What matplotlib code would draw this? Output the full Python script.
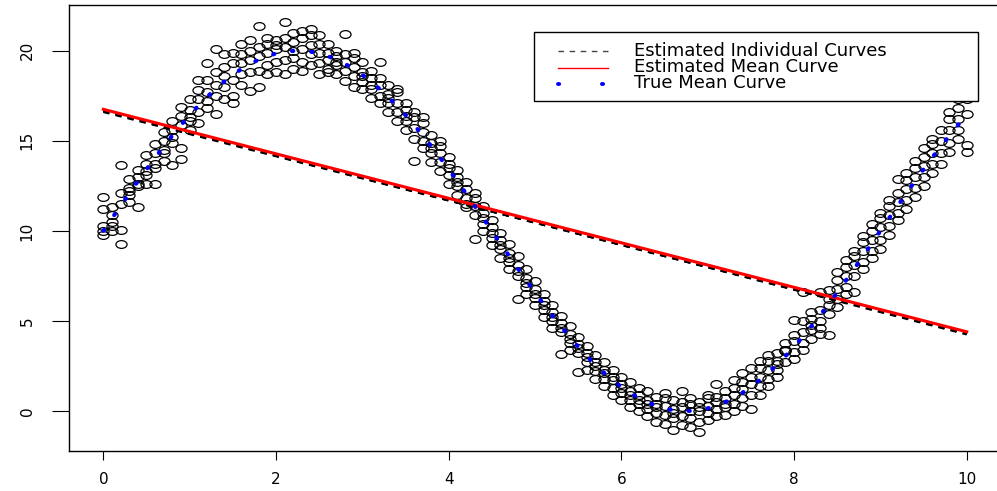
import numpy as np
import matplotlib
matplotlib.use("Agg")
import matplotlib.pyplot as plt
from matplotlib.path import Path
from matplotlib.lines import Line2D
from matplotlib.patches import Rectangle

plt.rcParams['font.family'] = ['DejaVu Sans']

# observation times (grid of 0.1) and 5 observations per time
times = np.linspace(0, 10, 101)
obs = [
    [9.8, 10.0, 10.3, 11.2, 11.9],
    [10.0, 10.5, 10.9, 11.3, 10.3],
    [9.3, 10.05, 11.5, 12.1, 13.65],
    [11.6, 12.0, 12.4, 12.9, 12.2],
    [11.34, 12.5, 13.0, 13.4, 12.6],
    [12.6, 13.1, 13.7, 14.2, 13.3],
    [12.6, 13.7, 14.3, 14.8, 13.5],
    [13.9, 14.5, 15.0, 15.5, 14.3],
    [13.65, 14.9, 15.6, 16.1, 15.2],
    [14.0, 14.58, 15.9, 16.4, 16.9],
    [15.6, 16.1, 16.7, 17.3, 16.3],
    [16.0, 16.6, 17.3, 17.8, 18.4],
    [16.8, 17.2, 17.7, 18.4, 19.3],
    [16.47, 17.5, 18.1, 18.8, 20.1],
    [17.3, 18.0, 18.6, 19.1, 19.8],
    [17.1, 17.5, 18.4, 19.3, 19.9],
    [18.1, 18.7, 19.3, 19.8, 20.4],
    [17.76, 18.8, 19.5, 20.0, 20.6],
    [18.0, 18.9, 19.7, 20.2, 21.37],
    [18.7, 19.2, 19.9, 20.4, 20.7],
    [18.8, 19.4, 20.1, 20.6, 20.3],
    [18.7, 19.5, 20.2, 20.7, 21.6],
    [19.0, 19.6, 20.0, 20.5, 21.0],
    [18.9, 19.4, 20.1, 20.7, 21.1],
    [19.2, 19.8, 20.3, 20.9, 21.2],
    [18.7, 19.3, 19.9, 20.4, 20.9],
    [19.0, 19.5, 19.9, 20.4, 18.8],
    [18.7, 19.2, 19.7, 20.0, 19.4],
    [18.3, 18.9, 19.4, 19.8, 20.93],
    [18.0, 18.6, 19.1, 19.6, 19.9],
    [17.9, 18.28, 18.8, 19.4, 18.6],
    [17.4, 17.9, 18.5, 18.9, 18.1],
    [17.1, 17.5, 18.1, 18.5, 19.37],
    [16.6, 17.1, 17.6, 18.1, 17.4],
    [16.1, 16.6, 17.1, 17.7, 17.9],
    [15.6, 16.1, 16.7, 17.1, 16.4],
    [13.9, 15.1, 15.7, 16.3, 16.6],
    [14.6, 15.0, 15.5, 16.0, 16.3],
    [13.8, 14.3, 14.9, 15.3, 14.6],
    [13.3, 13.8, 14.3, 14.7, 15.0],
    [12.6, 13.1, 13.7, 14.1, 13.5],
    [12.0, 12.5, 13.0, 13.4, 12.7],
    [11.3, 11.8, 12.3, 12.7, 11.5],
    [9.55, 10.9, 11.4, 11.8, 12.1],
    [10.0, 10.4, 11.0, 11.4, 10.7],
    [9.2, 9.6, 10.2, 10.6, 9.9],
    [8.5, 9.0, 9.5, 9.9, 9.2],
    [7.9, 8.3, 8.8, 9.3, 8.5],
    [6.2, 7.5, 8.1, 8.6, 7.8],
    [6.5, 6.9, 7.4, 7.9, 7.1],
    [5.9, 6.3, 6.8, 7.2, 6.5],
    [5.2, 5.6, 6.1, 6.5, 5.9],
    [4.6, 5.0, 5.5, 5.9, 5.2],
    [3.16, 4.4, 4.9, 5.3, 4.6],
    [3.4, 3.8, 4.3, 4.7, 4.0],
    [2.18, 3.2, 3.7, 4.1, 3.5],
    [2.3, 2.7, 3.2, 3.6, 3.0],
    [1.8, 2.2, 2.7, 3.1, 2.5],
    [1.4, 1.8, 2.3, 2.7, 2.1],
    [0.9, 1.3, 1.9, 2.3, 1.7],
    [0.6, 1.0, 1.5, 1.9, 1.3],
    [0.2, 0.6, 1.1, 1.6, 0.9],
    [0.0, 0.4, 0.9, 1.3, 0.6],
    [-0.3, 0.1, 0.6, 1.1, 0.4],
    [-0.6, -0.1, 0.4, 0.8, 0.2],
    [-0.7, -0.2, 0.3, 0.7, 1.0],
    [-1.05, -0.4, 0.1, 0.6, -0.1],
    [-0.8, -0.3, 0.2, 0.5, 1.13],
    [-0.9, -0.4, 0.0, 0.4, 0.7],
    [-1.15, -0.6, 0.0, 0.5, 0.2],
    [-0.5, -0.1, 0.3, 0.7, 0.9],
    [-0.3, 0.1, 0.5, 0.8, 1.5],
    [-0.2, 0.2, 0.7, 1.1, 0.4],
    [0.0, 0.4, 0.9, 1.3, 1.7],
    [0.3, 0.7, 1.2, 1.6, 2.1],
    [0.1, 0.9, 1.5, 1.9, 2.4],
    [0.9, 1.4, 1.9, 2.4, 2.8],
    [1.4, 1.8, 2.3, 2.8, 3.1],
    [1.9, 2.3, 2.8, 3.2, 2.6],
    [3.39, 3.4, 3.35, 2.7, 3.8],
    [2.9, 3.3, 3.9, 5.05, 4.2],
    [3.4, 3.8, 4.4, 5.0, 6.62],
    [4.0, 4.5, 5.1, 5.5, 4.8],
    [4.6, 5.0, 5.6, 6.6, 4.3],
    [4.2, 5.4, 6.2, 6.7, 5.9],
    [5.8, 6.2, 6.8, 7.3, 7.7],
    [6.5, 6.9, 7.5, 8.0, 8.4],
    [6.62, 7.5, 8.1, 8.6, 8.9],
    [7.9, 8.3, 8.9, 9.4, 9.7],
    [8.5, 8.9, 9.5, 10.0, 10.4],
    [9.0, 9.5, 10.2, 10.7, 11.0],
    [9.8, 10.3, 10.9, 11.4, 11.7],
    [10.6, 11.0, 11.6, 12.1, 12.9],
    [11.2, 11.7, 12.3, 12.8, 13.2],
    [11.9, 12.4, 13.0, 13.5, 13.9],
    [12.5, 13.0, 13.6, 14.1, 14.6],
    [13.2, 13.7, 14.3, 14.8, 15.1],
    [13.7, 14.3, 15.0, 15.6, 17.72],
    [14.4, 14.9, 15.6, 16.2, 16.6],
    [15.1, 15.6, 16.2, 16.8, 17.3],
    [14.39, 14.76, 16.5, 17.3, 18.19],
]

true_mean = [
    10.00, 10.70, 11.39, 12.08, 12.76, 13.42, 14.07, 14.69, 15.30, 15.88,
    16.43, 16.95, 17.43, 17.88, 18.29, 18.66, 18.99, 19.27, 19.51, 19.70,
    19.85, 19.95, 19.99, 19.99, 19.95, 19.85, 19.70, 19.51, 19.27, 18.99,
    18.66, 18.29, 17.88, 17.43, 16.95, 16.43, 15.88, 15.30, 14.69, 14.07,
    13.42, 12.76, 12.08, 11.39, 10.70, 10.00, 9.30, 8.61, 7.92, 7.24,
    6.58, 5.93, 5.31, 4.70, 4.12, 3.57, 3.05, 2.57, 2.12, 1.71,
    1.34, 1.01, 0.73, 0.49, 0.30, 0.15, 0.05, 0.01, 0.01, 0.05,
    0.15, 0.30, 0.49, 0.73, 1.01, 1.34, 1.71, 2.12, 2.57, 3.05,
    3.57, 4.12, 4.70, 5.31, 5.93, 6.58, 7.24, 7.92, 8.61, 9.30,
    10.00, 10.70, 11.39, 12.08, 12.76, 13.42, 14.07, 14.69, 15.30, 15.88,
    16.43,
]

est_x = [0, 10]
est_mean = [16.75, 4.40]
est_indiv = [
    [16.64, 4.28],
    [16.66, 4.25],
    [16.60, 4.31],
]

legend_labels = ["Estimated Individual Curves", "Estimated Mean Curve", "True Mean Curve"]

# open circles, slightly flattened like the reference
circ = Path.unit_circle()
ell = Path(circ.vertices * [1.0, 0.7], circ.codes)

fig = plt.figure(figsize=(9.97, 4.91), dpi=100)
# right edge of the box runs past the picture, as in the reference
ax = fig.add_axes([0.069, 0.0821, 0.95, 0.9077])

obs_arr = np.array(obs)
ax.plot(np.repeat(times, obs_arr.shape[1]), obs_arr.ravel(), ls='none',
        marker=ell, ms=8, mfc='none', mec='black', mew=0.9)

for curve in est_indiv:
    ax.plot(est_x, curve, color='black', lw=1.5, ls=(0, (3, 3)))
ax.plot(est_x, est_mean, color='#FF0000', lw=2.2)
ax.plot(times, true_mean, color='#0000FF', lw=3.0, ls=(0, (0.3, 4.3)),
        dash_capstyle='round')

ax.set_xlim(-0.4, 10.57)
ax.set_ylim(-2.2, 22.54)
ax.set_xticks([0, 2, 4, 6, 8, 10])
ax.set_yticks([0, 5, 10, 15, 20])
ax.tick_params(axis='x', length=6.5, width=0.8, pad=9, labelsize=11)
ax.tick_params(axis='y', length=12, width=0.8, pad=12.5, labelsize=11)
plt.setp(ax.get_yticklabels(), rotation=90, va='center')
for s in ax.spines.values():
    s.set_linewidth(1.0)
ax.spines['right'].set_visible(False)

# legend box drawn by hand to match position
W, H = 997.0, 491.0
fig.add_artist(Rectangle((534 / W, 1 - 101 / H), 444 / W, 69 / H,
                         transform=fig.transFigure, facecolor='white',
                         edgecolor='black', lw=1.0, zorder=5))
rows = [55.5, 72, 88.5]
styles = [dict(color='#444444', lw=1.0, ls=(0, (4, 4))),
          dict(color='#FF0000', lw=1.0),
          dict(color='#0000FF', lw=2.8, ls=(0, (0.3, 11)), dash_capstyle='round')]
for yb, lab, st in zip(rows, legend_labels, styles):
    yl = 1 - (yb - 4.5) / H
    fig.add_artist(Line2D([558 / W, 608 / W], [yl, yl], transform=fig.transFigure,
                          zorder=6, **st))
    fig.text(634 / W, 1 - yb / H, lab, fontsize=13, va='baseline', ha='left', zorder=6)

fig.savefig("out.png", dpi=100)
